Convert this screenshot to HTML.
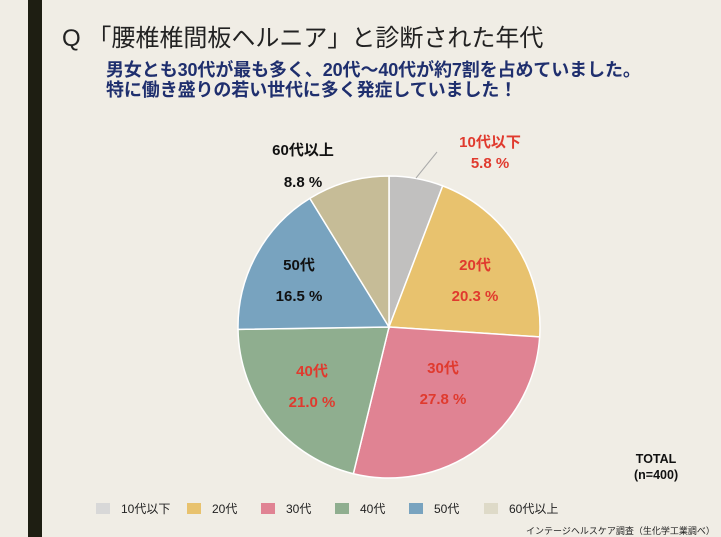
<!DOCTYPE html>
<html><head><meta charset="utf-8">
<style>
body{margin:0;width:721px;height:537px;background:#f0ede5;overflow:hidden;position:relative;font-family:"Liberation Sans","Noto Sans CJK JP",sans-serif}
.abs{position:absolute;white-space:nowrap}
</style></head><body>
<div class="abs" style="left:28px;top:0;width:14px;height:537px;background:#1e1e12"></div>
<div class="abs" style="left:62px;top:18px;font-size:24px;color:#222">Q 「腰椎椎間板ヘルニア」と診断された年代</div>
<div class="abs" style="left:106px;top:60px;font-size:18px;font-weight:bold;color:#1f2f6e;line-height:20px;letter-spacing:-0.1px">男女とも30代が最も多く、20代～40代が約7割を占めていました。<br>特に働き盛りの若い世代に多く発症していました！</div>
<svg class="abs" style="left:0;top:0" width="721" height="537">
<g id="pie"></g>
<line x1="416" y1="178" x2="437" y2="152" stroke="#aaa" stroke-width="1"/>
</svg>
<div class="abs" style="left:634px;top:451px;font-size:12.5px;font-weight:bold;text-align:center;line-height:16px;color:#111">TOTAL<br>(n=400)</div>
<div id="legend"></div>
<div class="abs" style="left:526px;top:524px;font-size:9px;color:#222">インテージヘルスケア調査（生化学工業調べ）</div>
<script>
const categories=["10代以下","20代","30代","40代","50代","60代以上"];
const values=[5.8,20.3,27.8,21.0,16.5,8.8];
const colors=["#c1c0bf","#e8c26e","#e08393","#8fae8f","#78a3bf","#c6bc97"];
const legendColors=["#d8d8d8","#e8c26e","#e08393","#8fae8f","#78a3bf","#dedac8"];
const labelColors=["#e03a2e","#e03a2e","#e03a2e","#e03a2e","#111","#111"];
const cx=389,cy=327,r=151;
const g=document.getElementById('pie');
const total=values.reduce((a,b)=>a+b,0);
let a0=-Math.PI/2;
const ns="http://www.w3.org/2000/svg";
// label layout (position of first line center, gap between lines)
const labelLayout=[[490,142,21],[475,265,31],[443,368,31],[312,371,31],[299,265,31],[303,150,32]];
values.forEach((v,i)=>{
 const a1=a0+v/total*2*Math.PI;
 const p=document.createElementNS(ns,'path');
 const x0=cx+r*Math.cos(a0),y0=cy+r*Math.sin(a0),x1=cx+r*Math.cos(a1),y1=cy+r*Math.sin(a1);
 p.setAttribute('d',`M${cx},${cy}L${x0},${y0}A${r},${r} 0 ${a1-a0>Math.PI?1:0} 1 ${x1},${y1}Z`);
 p.setAttribute('fill',colors[i]);p.setAttribute('stroke','#fff');p.setAttribute('stroke-width','1.5');
 
 
 g.appendChild(p);
 const [lx,ly,gap]=labelLayout[i];
 [categories[i],v.toFixed(1)+" %"].forEach((t,k)=>{
  const tx=document.createElementNS(ns,'text');
  tx.setAttribute('x',lx);tx.setAttribute('y',ly+5+k*gap);
  tx.setAttribute('text-anchor','middle');tx.setAttribute('font-size','15');tx.setAttribute('font-weight','bold');
  tx.setAttribute('fill',labelColors[i]);
  tx.setAttribute('font-family','"Liberation Sans","Noto Sans CJK JP",sans-serif');
  tx.textContent=t;
  
  
  g.appendChild(tx);
 });
 a0=a1;
});
const lg=document.getElementById('legend');
const lx=[96,187,261,335,409,484];
categories.forEach((c,i)=>{
 const d=document.createElement('div');d.className='abs';
 d.style.left=lx[i]+'px';d.style.top='500px';d.style.fontSize='12px';d.style.color='#222';
 d.innerHTML=`<span style="display:inline-block;width:14px;height:11px;background:${legendColors[i]};vertical-align:-1px;margin-right:11px"></span>${c}`;
 
 
 lg.appendChild(d);
});
</script>
</body></html>
